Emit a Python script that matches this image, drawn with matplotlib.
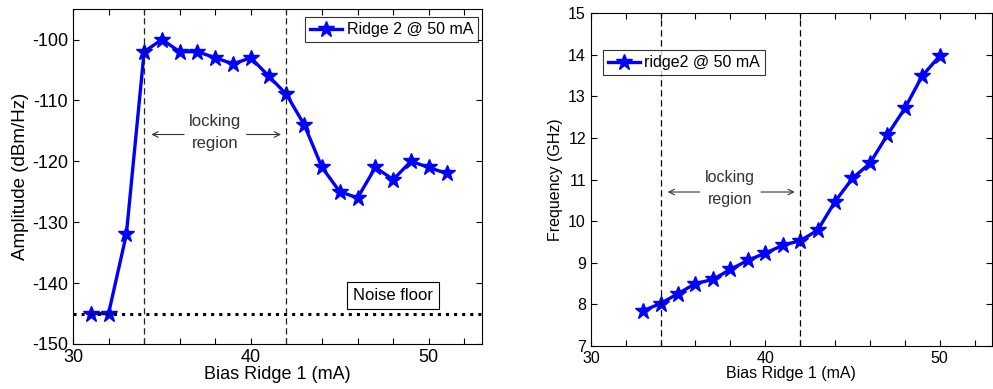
import numpy as np
import matplotlib
matplotlib.use("Agg")
import matplotlib.pyplot as plt

plt.rcParams['font.family'] = ['Liberation Sans', 'DejaVu Sans']
plt.rcParams['axes.unicode_minus'] = False

# amplitude vs bias (left)
bias_amp = [31, 32, 33, 34, 35, 36, 37, 38, 39, 40, 41, 42, 43, 44, 45, 46, 47, 48, 49, 50, 51]
amplitude = [-145, -145, -132, -102, -100, -102, -102, -103, -104, -103, -106, -109,
             -114, -121, -125, -126, -121, -123, -120, -121, -122]
noise_floor = -145

# frequency vs bias (right)
bias_freq = [33, 34, 35, 36, 37, 38, 39, 40, 41, 42, 43, 44, 45, 46, 47, 48, 49, 50]
frequency = [7.85, 8.02, 8.26, 8.5, 8.6, 8.84, 9.06, 9.23, 9.42, 9.53, 9.78, 10.47,
             11.03, 11.39, 12.07, 12.71, 13.49, 13.97]

lock_lo, lock_hi = 34, 42
blue = '#0000ff'

fig = plt.figure(figsize=(9.93, 3.89), dpi=100)
ax1 = fig.add_axes([0.0735, 0.1157, 0.412, 0.861])
ax2 = fig.add_axes([0.595, 0.1105, 0.404, 0.856])


def style_axis(ax, fs):
    ax.set_xlim(30, 53)
    ax.set_xticks(np.arange(30, 53, 2))
    ax.set_xticklabels([str(v) if v % 10 == 0 else '' for v in range(30, 53, 2)])
    ax.tick_params(direction='in', top=True, right=True, labelsize=fs, length=4, width=0.8)
    for s in ax.spines.values():
        s.set_linewidth(0.8)


def locking(ax, y, dy, fs):
    ax.text(38, y, 'locking\nregion', ha='center', va='center', fontsize=fs,
            color='#333333', linespacing=1.55)
    ax.annotate('', xy=(lock_lo + 0.25, y - dy), xytext=(36.4, y - dy),
                arrowprops=dict(arrowstyle='->', color='#333333', lw=0.8))
    ax.annotate('', xy=(lock_hi - 0.15, y - dy), xytext=(39.6, y - dy),
                arrowprops=dict(arrowstyle='->', color='#333333', lw=0.8))


# left panel
ax1.plot(bias_amp, amplitude, '-*', color=blue, lw=2.4, ms=12, label='Ridge 2 @ 50 mA')
ax1.axhline(noise_floor, color='black', ls=':', lw=2.2)
for xv in (lock_lo, lock_hi):
    ax1.axvline(xv, color='#222222', ls='--', lw=0.9, dashes=(5, 3))
ax1.set_ylim(-150, -95)
ax1.set_yticks(np.arange(-150, -99, 10))
style_axis(ax1, 13)
ax1.set_xlabel('Bias Ridge 1 (mA)', fontsize=13, labelpad=0)
ax1.set_ylabel('Amplitude (dBm/Hz)', fontsize=13.5, labelpad=2)
locking(ax1, -115.3, 0.3, 12)
ax1.text(48, -142, 'Noise floor', ha='center', va='center', fontsize=12,
         bbox=dict(boxstyle='square,pad=0.35', fc='white', ec='black', lw=0.8))
leg1 = ax1.legend(loc='upper right', bbox_to_anchor=(0.99, 0.975), fontsize=11.5,
                  fancybox=False, edgecolor='black', borderaxespad=0, handlelength=2.0,
                  handletextpad=0.3, borderpad=0.3)
leg1.get_frame().set_linewidth(0.8)

# right panel
ax2.plot(bias_freq, frequency, '-*', color=blue, lw=2.4, ms=12, label='ridge2 @ 50 mA')
for xv in (lock_lo, lock_hi):
    ax2.axvline(xv, color='black', ls='--', lw=0.9, dashes=(5, 3))
ax2.set_ylim(7, 15)
ax2.set_yticks(np.arange(7, 16, 1))
style_axis(ax2, 11.5)
ax2.set_xlabel('Bias Ridge 1 (mA)', fontsize=11.5, labelpad=0)
ax2.set_ylabel('Frequency (GHz)', fontsize=11.5, labelpad=4)
locking(ax2, 10.78, 0.08, 11.5)
leg2 = ax2.legend(loc='upper left', bbox_to_anchor=(0.03, 0.888), borderaxespad=0,
                  fontsize=11.5, fancybox=False, edgecolor='black', handlelength=2.0,
                  handletextpad=0.3, borderpad=0.3)
leg2.get_frame().set_linewidth(0.8)

fig.savefig('out.png', dpi=100)
